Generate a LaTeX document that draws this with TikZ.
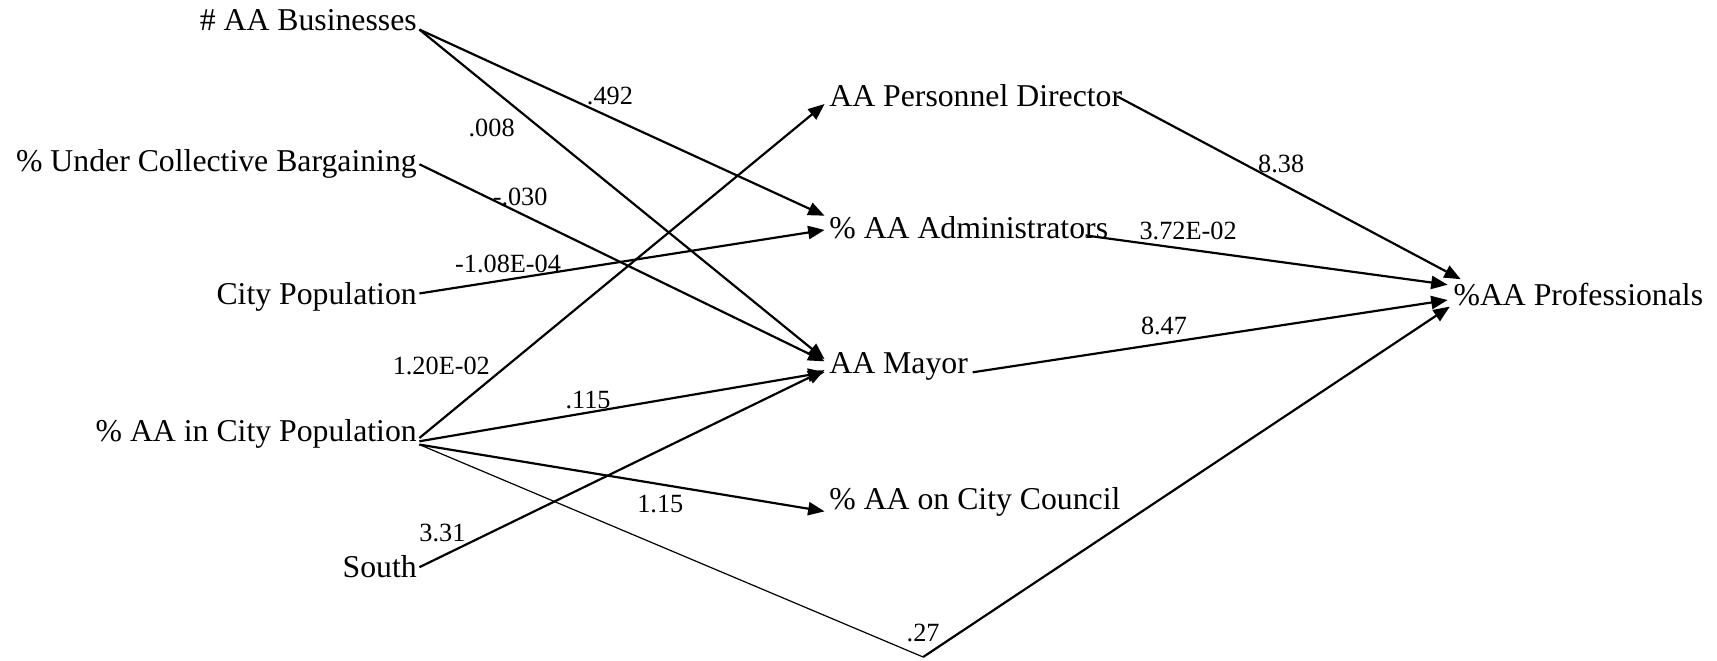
\documentclass[tikz,border=0pt]{standalone}
\usepackage{fontspec}
\setmainfont{Liberation Serif}
\usetikzlibrary{arrows.meta,calc}
\begin{document}
\begin{tikzpicture}[x=0.5pt,y=-0.5pt,
  var/.style={inner sep=0pt,font=\fontsize{14.5}{16}\selectfont},
  coef/.style={inner sep=0pt,font=\fontsize{12}{14}\selectfont},
  path/.style={line width=1pt,-{Triangle[length=7.5pt,width=6pt]}},
  plain/.style={line width=0.55pt}]
\useasboundingbox (0,0) rectangle (1568,603);

% exogenous variables
\node[var,anchor=base east] (bus) at (381,28)  {\# AA Businesses};
\node[var,anchor=base east] (col) at (381,157) {\% Under Collective Bargaining};
\node[var,anchor=base east] (pop) at (381,278) {City Population};
\node[var,anchor=base east] (aap) at (381,403) {\% AA in City Population};
\node[var,anchor=base east] (sou) at (381,527) {South};

% intermediate variables
\node[var,anchor=base west] (per) at (757,97)  {AA Personnel Director};
\node[var,anchor=base west] (adm) at (757,218) {\% AA Administrators};
\node[var,anchor=base west] (may) at (757,341) {AA Mayor};
\node[var,anchor=base west] (cou) at (757,465) {\% AA on City Council};

% outcome
\node[var,anchor=base west] (pro) at (1327,279) {\%AA Professionals};

\coordinate (bend) at (843,600);

% paths into the intermediate variables
\draw[path] ($(bus.base east)+(2,-1)$) -- ($(adm.base west)+(-4,-21)$);
\draw[path] ($(bus.base east)+(2,-1)$) -- ($(may.base west)+(-4,-13)$);
\draw[path] ($(col.base east)+(2,-7)$) -- ($(may.base west)+(-4,-11)$);
\draw[path] ($(pop.base east)+(2,-10)$) -- ($(adm.base west)+(-4,-8)$);
\draw[path] ($(aap.base east)+(2,-3)$) -- ($(per.base west)+(-4,-2)$);
\draw[path] ($(aap.base east)+(2,0)$) -- ($(may.base west)+(-4,-1)$);
\draw[path] ($(aap.base east)+(2,3)$) -- ($(cou.base west)+(-4,2)$);
\draw[path] ($(sou.base east)+(2,-9)$) -- ($(may.base west)+(-4,-3)$);

% paths into the outcome
\draw[plain] ($(aap.base east)+(2,3)$) -- (bend);
\draw[path] (bend) -- ($(pro.base west)+(-3,1)$);
\draw[path] ($(per.base east)+(-5,-9)$) -- ($(pro.base west)+(7,-24)$);
\draw[path] ($(adm.base east)+(-21,-3)$) -- ($(pro.base west)+(-5,-19)$);
\draw[path] ($(may.base east)+(4,-1)$) -- ($(pro.base west)+(-5,-5)$);

% coefficients
\node[coef] (c1)  at (557,88)  {.492};
\node[coef] (c2)  at (449,117) {.008};
\node[coef] (c3)  at (475,180) {-.030};
\node[coef] (c4)  at (464,241) {-1.08E-04};
\node[coef] (c5)  at (403,334) {1.20E-02};
\node[coef] (c6)  at (537,365) {.115};
\node[coef] (c7)  at (603,460) {1.15};
\node[coef] (c8)  at (404,487) {3.31};
\node[coef] (c9)  at (843,578) {.27};
\node[coef] (c10) at (1170,150) {8.38};
\node[coef] (c11) at (1085,211) {3.72E-02};
\node[coef] (c12) at (1063,298) {8.47};
\end{tikzpicture}
\end{document}
